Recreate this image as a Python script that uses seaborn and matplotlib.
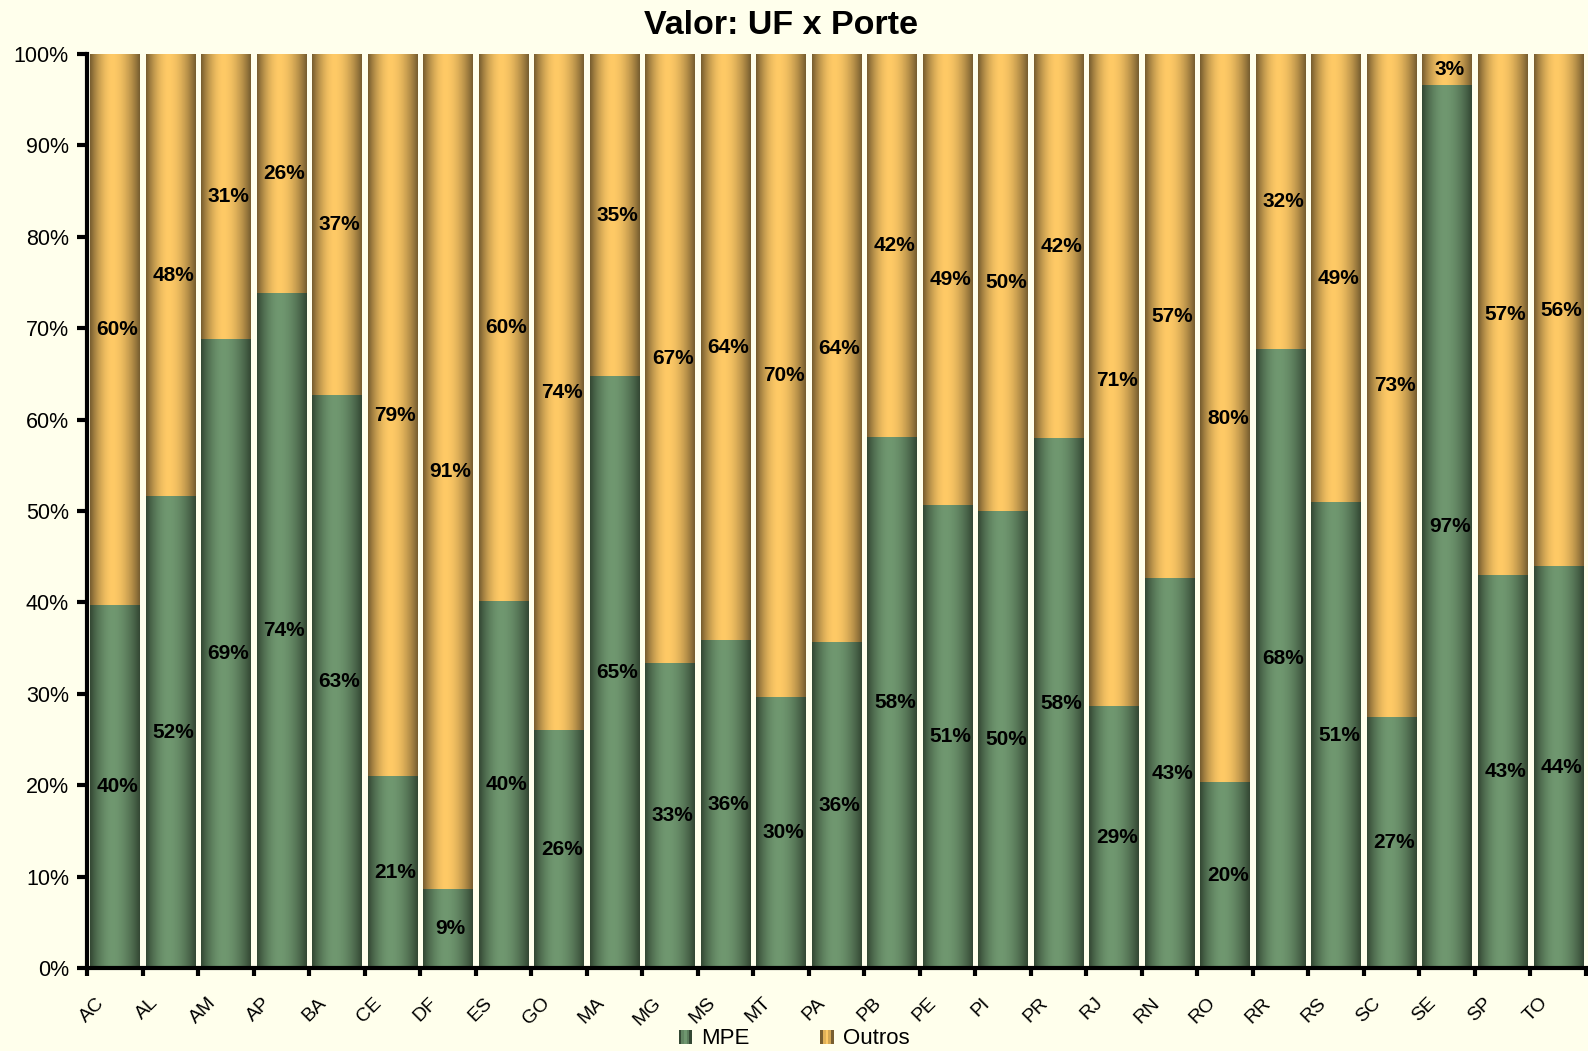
import matplotlib
matplotlib.use('Agg')
import matplotlib.pyplot as plt
import seaborn as sns
import numpy as np
import pandas as pd
from matplotlib.patches import Rectangle
from matplotlib.legend_handler import HandlerBase

ufs = ['AC', 'AL', 'AM', 'AP', 'BA', 'CE', 'DF', 'ES', 'GO', 'MA', 'MG', 'MS', 'MT', 'PA',
       'PB', 'PE', 'PI', 'PR', 'RJ', 'RN', 'RO', 'RR', 'RS', 'SC', 'SE', 'SP', 'TO']
mpe = [39.7, 51.6, 68.8, 73.8, 62.6, 20.9, 8.6, 40.1, 26.0, 64.7, 33.3, 35.8, 29.6, 35.6,
       58.0, 50.6, 49.9, 57.9, 28.6, 42.6, 20.3, 67.7, 50.9, 27.4, 96.6, 42.9, 43.9]
outros = [100 - v for v in mpe]

bg = '#FFFFEC'
green_light, green_dark = np.array([112, 152, 112]) / 255, np.array([52, 72, 52]) / 255
yel_light, yel_dark = np.array([255, 202, 102]) / 255, np.array([120, 94, 48]) / 255

sns.set_theme(style='white')
plt.rcParams['font.family'] = ['Liberation Sans', 'DejaVu Sans']
plt.rcParams['text.color'] = 'black'
plt.rcParams['xtick.color'] = 'black'
plt.rcParams['ytick.color'] = 'black'
plt.rcParams['axes.labelcolor'] = 'black'


def profile(n=64):
    t = np.linspace(0, 1, n)
    d = np.where(t < 0.45, (0.45 - t) / 0.45, (t - 0.45) / 0.55)
    return np.clip(1 - d ** 1.8, 0, 1)


def grad_img(light, dark):
    p = profile()
    rgb = dark[None, :] + (light - dark)[None, :] * p[:, None]
    return rgb[None, :, :]


class GradHandler(HandlerBase):
    def __init__(self, light, dark):
        super().__init__()
        self.light, self.dark = light, dark

    def create_artists(self, legend, orig_handle, xdescent, ydescent, width, height, fontsize, trans):
        n = 5
        p = profile(n)
        arts = []
        for k in range(n):
            c = self.dark + (self.light - self.dark) * p[k]
            r = Rectangle((-xdescent + k * width / n, -ydescent), width / n, height,
                          facecolor=c, edgecolor='none', transform=trans)
            arts.append(r)
        return arts


df = pd.DataFrame({'UF': ufs, 'MPE': mpe, 'Outros': outros, 'Total': [100] * len(ufs)})

fig = plt.figure(figsize=(15.88, 10.51), dpi=100, facecolor=bg)
ax = fig.add_axes([87 / 1588, 1 - 968 / 1051, (1586 - 87) / 1588, (968 - 54) / 1051])
ax.set_facecolor(bg)

sns.barplot(data=df, x='UF', y='Total', color=yel_light, width=0.89, saturation=1, ax=ax)
sns.barplot(data=df, x='UF', y='MPE', color=green_light, width=0.89, saturation=1, ax=ax)

n = len(ufs)
for k, p in enumerate(ax.patches):
    if k < n:
        img, z = grad_img(yel_light, yel_dark), 1
    else:
        img, z = grad_img(green_light, green_dark), 2
    x0, w, y0, h = p.get_x(), p.get_width(), p.get_y(), p.get_height()
    ax.imshow(img, extent=[x0, x0 + w, y0, y0 + h], aspect='auto', origin='lower',
              interpolation='bilinear', zorder=z)
    p.set_visible(False)

for i in range(n):
    ax.text(i + 0.05, mpe[i] / 2, f'{int(mpe[i] + 0.5)}%', ha='center', va='center',
            fontsize=15, fontweight='bold', color='black', zorder=5)
    ax.text(i + 0.05, mpe[i] + outros[i] / 2, f'{int(outros[i] + 0.5)}%', ha='center', va='center',
            fontsize=15, fontweight='bold', color='black', zorder=5)

ax.set_xlim(-0.5, n - 0.5)
ax.set_ylim(0, 100)
ax.set_xlabel('')
ax.set_ylabel('')

ax.set_yticks(range(0, 101, 10))
ax.set_yticklabels([f'{v}%' for v in range(0, 101, 10)], fontsize=15.5)
ax.tick_params(axis='y', length=7, width=3, direction='out', pad=6, color='black', left=True)

ax.set_xticks(np.arange(n) - 0.41)
ax.set_xticklabels(ufs, rotation=45, ha='center', fontsize=14)
ax.set_xticks(np.arange(n + 1) - 0.5, minor=True)
ax.tick_params(axis='x', which='major', length=0, pad=19)
ax.tick_params(axis='x', which='minor', length=6, width=3, direction='out', color='black', bottom=True)

for s in ['top', 'right']:
    ax.spines[s].set_visible(False)
for s in ['left', 'bottom']:
    ax.spines[s].set_linewidth(3)
    ax.spines[s].set_color('black')
    ax.spines[s].set_zorder(6)

fig.text(781 / 1588, 1 - 26 / 1051, 'Valor: UF x Porte', ha='center', va='center',
         fontsize=24.5, fontweight='bold')

h1 = Rectangle((0, 0), 1, 1)
h2 = Rectangle((0, 0), 1, 1)
fig.legend([h1, h2], ['MPE', 'Outros'], loc='center', bbox_to_anchor=(794 / 1588, 1 - 1039 / 1051),
           ncol=2, frameon=False, fontsize=16, handlelength=0.6, handleheight=0.6,
           handletextpad=0.4, columnspacing=3.2,
           handler_map={h1: GradHandler(green_light, green_dark), h2: GradHandler(yel_light, yel_dark)})

fig.savefig('out.png', dpi=100, facecolor=bg)
